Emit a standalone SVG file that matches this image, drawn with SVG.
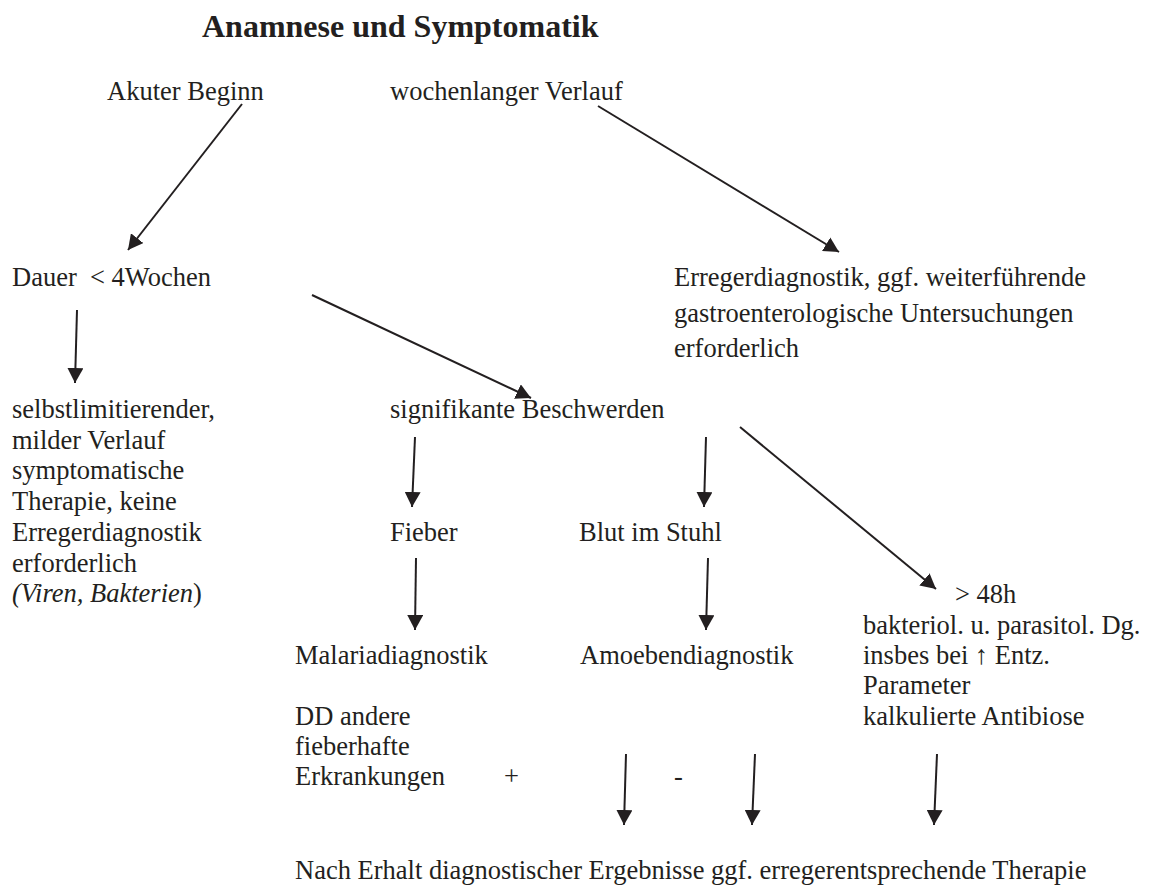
<svg xmlns="http://www.w3.org/2000/svg" width="1149" height="885" viewBox="0 0 1149 885">
<style>
text{font-family:"Liberation Serif","Times New Roman",serif;font-size:26.5px;fill:#231f20;white-space:pre}
.title{font-size:32px;font-weight:bold}
.it{font-style:italic}
.c line{stroke:#231f20;stroke-width:2;marker-end:url(#ah)}
</style>
<defs>
<marker id="ah" markerUnits="userSpaceOnUse" markerWidth="16" markerHeight="16" refX="15" refY="8" orient="auto" viewBox="0 0 16 16">
<path d="M0,0 L15,8 L0,16 z" fill="#231f20"/>
</marker>
</defs>
<rect width="1149" height="885" fill="#fff"/>
<g id="title"><text class="title" x="202" y="37">Anamnese und Symptomatik</text></g>
<g id="akut"><text x="107" y="100">Akuter Beginn</text></g>
<g id="wochen"><text x="390" y="100">wochenlanger Verlauf</text></g>
<g id="dauer"><text x="12" y="286">Dauer  &lt; 4Wochen</text></g>
<g id="erreger">
<text x="674" y="286">Erregerdiagnostik, ggf. weiterführende</text>
<text x="674" y="322">gastroenterologische Untersuchungen</text>
<text x="674" y="357">erforderlich</text>
</g>
<g id="selbst">
<text x="12" y="418">selbstlimitierender,</text>
<text x="12" y="448.7">milder Verlauf</text>
<text x="12" y="479.4">symptomatische</text>
<text x="12" y="510">Therapie, keine</text>
<text x="12" y="540.8">Erregerdiagnostik</text>
<text x="12" y="571.5">erforderlich</text>
<text x="12" y="602"><tspan class="it">(Viren, Bakterien</tspan>)</text>
</g>
<g id="sig"><text x="390" y="418">signifikante Beschwerden</text></g>
<g id="fieber"><text x="390" y="541">Fieber</text></g>
<g id="blut"><text x="579" y="541">Blut im Stuhl</text></g>
<g id="h48">
<text x="955" y="603">&gt; 48h</text>
<text x="863" y="634">bakteriol. u. parasitol. Dg.</text>
<text x="863" y="664">insbes bei ↑ Entz.</text>
<text x="863" y="694">Parameter</text>
<text x="863" y="725">kalkulierte Antibiose</text>
</g>
<g id="malaria"><text x="295" y="664">Malariadiagnostik</text></g>
<g id="amoeben"><text x="580" y="664">Amoebendiagnostik</text></g>
<g id="dd">
<text x="295" y="725">DD andere</text>
<text x="295" y="755">fieberhafte</text>
<text x="295" y="785">Erkrankungen</text>
</g>
<g id="plus"><text x="504" y="785">+</text></g>
<g id="minus"><text x="674" y="785">-</text></g>
<g id="nach"><text x="295" y="879">Nach Erhalt diagnostischer Ergebnisse ggf. erregerentsprechende Therapie</text></g>
<g id="connectors" class="c">
<line x1="242" y1="104" x2="128" y2="250"/>
<line x1="598" y1="106" x2="839" y2="252"/>
<line x1="77" y1="310" x2="75" y2="383"/>
<line x1="312" y1="295" x2="531" y2="398"/>
<line x1="415" y1="437" x2="412" y2="507"/>
<line x1="706" y1="437" x2="704" y2="507"/>
<line x1="740" y1="427" x2="936" y2="589"/>
<line x1="416" y1="558" x2="415" y2="630"/>
<line x1="708" y1="558" x2="706" y2="630"/>
<line x1="626" y1="754" x2="624" y2="825"/>
<line x1="755" y1="754" x2="752" y2="825"/>
<line x1="937" y1="754" x2="934" y2="825"/>
</g>
</svg>
